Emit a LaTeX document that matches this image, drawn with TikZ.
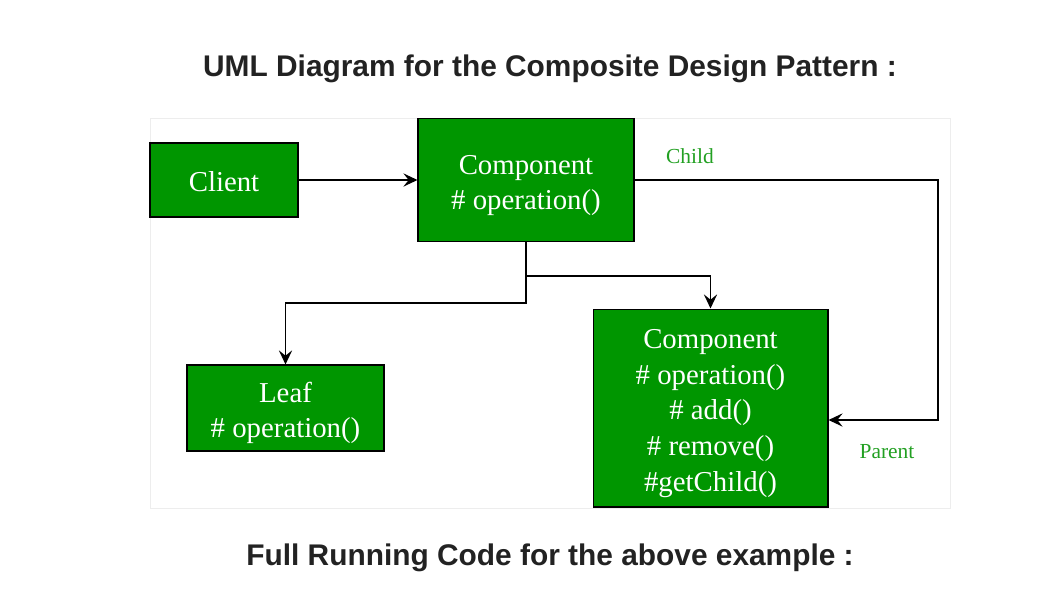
\documentclass[tikz,border=0pt]{standalone}
\usepackage{fontspec}
\setmainfont{Liberation Serif}
\newfontfamily\headfont{Liberation Sans}
\usetikzlibrary{arrows.meta}
\definecolor{boxgreen}{RGB}{0,150,0}
\definecolor{lblgreen}{RGB}{34,160,34}
\definecolor{headgray}{RGB}{34,34,34}
\newcommand\strutup{\rule{0pt}{0.6cm}}
\tikzset{
  cls/.style={draw=black, line width=0.6pt, fill=boxgreen, text=white, align=center,
    font=\fontsize{16.4}{20.4}\selectfont, inner sep=0pt},
  lbl/.style={text=lblgreen, font=\fontsize{12.2}{14}\selectfont},
  head/.style={text=headgray, font=\headfont\bfseries\fontsize{17}{20}\selectfont},
  link/.style={->, line width=1.1pt}
}
\begin{document}
\begin{tikzpicture}[>={Stealth[length=8pt,width=7.5pt,inset=3pt]}, x=0.02cm, y=-0.02cm]
\useasboundingbox (0,0) rectangle (1048,606);
\fill[white] (0,0) rectangle (1048,606);
% panel
\draw[black!7, fill=white] (150,118) rectangle (950,508);
\node[head] (title) at (550,69) {UML Diagram for the Composite Design Pattern :};
\node[head] (code) at (550,558) {Full Running Code for the above example :};
% classes
\node[cls, minimum width=2.96cm, minimum height=1.48cm] (client) at (224,180) {\rule{0pt}{0.45cm}Client};
\node[cls, minimum width=4.32cm, minimum height=2.46cm] (comp) at (526,180) {\strutup Component\\\# operation()};
\node[cls, minimum width=3.94cm, minimum height=1.72cm] (leaf) at (285.5,408) {\strutup Leaf\\\# operation()};
\node[cls, minimum width=4.7cm, minimum height=3.96cm] (compo) at (710.5,408)
  {\strutup Component\\\# operation()\\\# add()\\\# remove()\\\#getChild()};
\coordinate (turn) at (938,420);
% connectors
\draw[link] (client) -- (comp);
\draw[link] (comp.south) -- ++(0,34) -| (compo.north);
\draw[link] (comp.south) -- ++(0,61) -| (leaf.north);
\draw[link] (comp.east) -| (turn) -- (compo.east |- turn);
\node[lbl] (child) at (690,156) {Child};
\node[lbl] (parent) at (887,452) {Parent};
\end{tikzpicture}
\end{document}
